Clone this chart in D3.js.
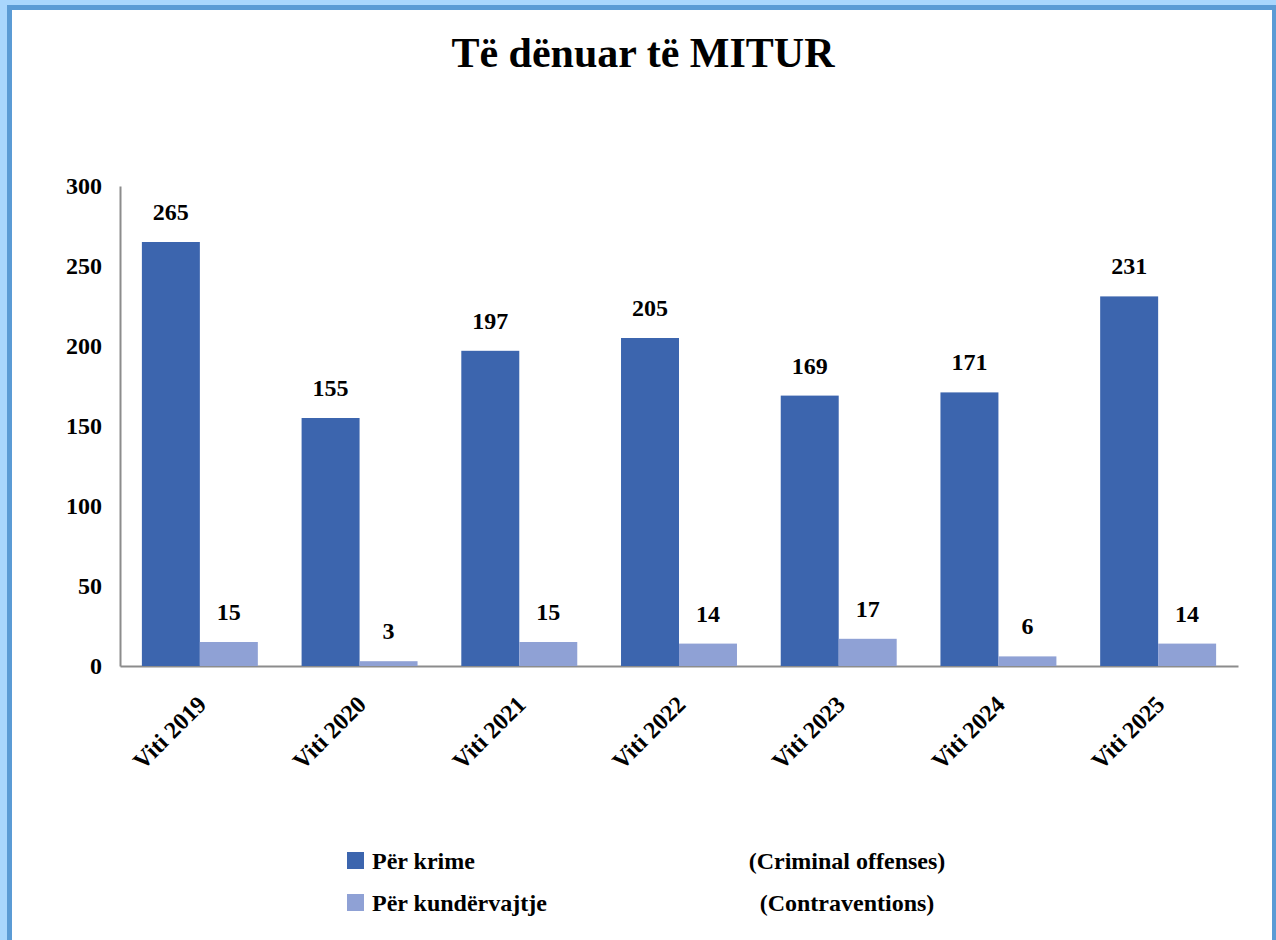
<!DOCTYPE html>
<html lang="sq">
<head>
    <meta charset="UTF-8">
    <title>Të dënuar të MITUR</title>
    <script src="https://cdnjs.cloudflare.com/ajax/libs/d3/7.8.5/d3.min.js"></script>
    <style>
        body { margin: 0; background: #fff; }
        svg text { font-family: "Liberation Serif", "Times New Roman", "DejaVu Serif", serif; font-weight: bold; fill: #000; }
        .axis path { stroke: #8c8c8c; stroke-width: 2; }
    </style>
</head>
<body>
<svg id="chart" width="1276" height="940"></svg>
<script>
    // data
    const years = ["Viti 2019", "Viti 2020", "Viti 2021", "Viti 2022", "Viti 2023", "Viti 2024", "Viti 2025"];
    const krime = [265, 155, 197, 205, 169, 171, 231];
    const kundervajtje = [15, 3, 15, 14, 17, 6, 14];
    const yTicks = [0, 50, 100, 150, 200, 250, 300];
    const seriesNames = ["Për krime", "Për kundërvajtje"];
    const seriesNotes = ["(Criminal offenses)", "(Contraventions)"];
    const seriesColors = ["#3c65ae", "#8fa1d5"];

    const serif = '"Liberation Serif", "Times New Roman", "DejaVu Serif", serif';
    const svg = d3.select("#chart");

    // frame
    svg.append("rect").attr("width", 1276).attr("height", 940).attr("fill", "#a9d6fd");
    svg.append("rect").attr("x", 7).attr("y", 5).attr("width", 1269).attr("height", 935).attr("fill", "#5b9bd5");
    svg.append("rect").attr("x", 12).attr("y", 10).attr("width", 1260).attr("height", 930).attr("fill", "#fff");

    svg.append("text")
        .attr("x", 643).attr("y", 67)
        .attr("text-anchor", "middle")
        .style("font-family", serif)
        .style("font-size", "42px")
        .text("Të dënuar të MITUR");

    const x = d3.scaleBand().domain(years).range([120, 1238]).paddingInner(0.274).paddingOuter(0.137);
    const xSub = d3.scaleBand().domain([0, 1]).range([0, x.bandwidth()]);
    const y = d3.scaleLinear().domain([0, 300]).range([666, 186]);

    const yAxis = svg.append("g")
        .attr("class", "axis")
        .attr("transform", "translate(120,0)")
        .call(d3.axisLeft(y).tickValues(yTicks).tickSize(0).tickPadding(18));
    yAxis.attr("font-family", null);
    yAxis.selectAll("text").style("font-family", serif).style("font-size", "24px");

    svg.append("g")
        .attr("class", "axis")
        .attr("transform", "translate(0,666)")
        .call(d3.axisBottom(x).tickSize(0).tickSizeOuter(0).tickFormat(""));

    const rows = years.map((yr, i) => ({ year: yr, values: [krime[i], kundervajtje[i]] }));

    const groups = svg.append("g").selectAll("g")
        .data(rows)
        .enter()
        .append("g")
        .attr("transform", d => `translate(${x(d.year)},0)`);

    groups.selectAll("rect")
        .data(d => d.values)
        .enter()
        .append("rect")
        .attr("x", (d, i) => xSub(i))
        .attr("width", xSub.bandwidth())
        .attr("y", d => y(d))
        .attr("height", d => y(0) - y(d))
        .attr("fill", (d, i) => seriesColors[i]);

    groups.selectAll("text.val")
        .data(d => d.values)
        .enter()
        .append("text")
        .attr("class", "val")
        .attr("x", (d, i) => xSub(i) + xSub.bandwidth() / 2)
        .attr("y", d => y(d) - 22)
        .attr("text-anchor", "middle")
        .style("font-family", serif)
        .style("font-size", "24px")
        .text(d => d);

    // rotated year labels
    svg.append("g").selectAll("text")
        .data(years)
        .enter()
        .append("text")
        .attr("transform", d => `translate(${x(d) + x.bandwidth() / 2 - 4},${694}) rotate(-45)`)
        .attr("text-anchor", "end")
        .attr("dy", "0.7em")
        .style("font-family", serif)
        .style("font-size", "24px")
        .text(d => d);

    // legend
    const legend = svg.append("g").selectAll("g")
        .data(seriesNames)
        .enter()
        .append("g")
        .attr("transform", (d, i) => `translate(0,${869 + i * 42})`);
    legend.append("rect")
        .attr("x", 347).attr("y", -17)
        .attr("width", 17).attr("height", 17)
        .attr("fill", (d, i) => seriesColors[i]);
    legend.append("text")
        .attr("x", 372)
        .style("font-family", serif)
        .style("font-size", "24px")
        .text(d => d);
    legend.append("text")
        .attr("x", 847)
        .attr("text-anchor", "middle")
        .style("font-family", serif)
        .style("font-size", "24px")
        .text((d, i) => seriesNotes[i]);
</script>
</body>
</html>
